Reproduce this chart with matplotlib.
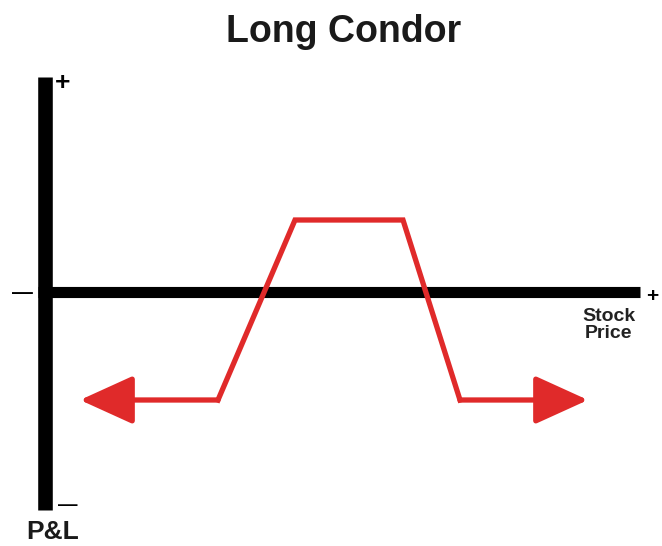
import matplotlib
matplotlib.use('Agg')
import matplotlib.pyplot as plt

plt.rcParams['font.family'] = ['Liberation Sans', 'DejaVu Sans']

# payoff shape of the long condor (arbitrary units, origin at axis crossing)
price = [35, 173, 250, 358, 415, 543]
pnl = [-108, -108, 72, 72, -108, -108]

title = 'Long Condor'
x_label = 'Stock\nPrice'
y_label = 'P&L'

fig = plt.figure(figsize=(6.62, 5.46), dpi=100)
ax = fig.add_axes([0, 0, 1, 1])
ax.set_xlim(-45, 617)
ax.set_ylim(-254, 292)
ax.axis('off')

# axes drawn as thick black bars
ax.plot([0, 0], [215, -218], color='black', lw=10.5, solid_capstyle='butt')
ax.plot([-7, 595], [0, 0], color='black', lw=8, solid_capstyle='butt')

red = '#e02a2a'
# middle of the payoff
ax.plot(price[1:5], pnl[1:5], color=red, lw=3.8, solid_joinstyle='miter')

# arrow tails on both sides
for a, b in [(0, 1), (5, 4)]:
    ax.annotate('', xy=(price[a], pnl[a]), xytext=(price[b], pnl[b]),
                arrowprops=dict(arrowstyle='-|>,head_length=2.2,head_width=1.0',
                                mutation_scale=15, lw=3.8, color=red,
                                shrinkA=0, shrinkB=0))

# labels
ax.text(299, 250, title, ha='center', va='baseline',
        fontsize=27, fontweight='bold', color='#1a1a1a')
ax.text(18, 209, '+', ha='center', va='center', fontsize=19, fontweight='bold')
ax.text(607, -5, '+', ha='center', va='center', fontsize=15, fontweight='bold')
ax.text(-23, -1, '—', ha='center', va='center', fontsize=15, fontweight='bold')
ax.text(23, -214, '—', ha='center', va='center', fontsize=14, fontweight='bold')
ax.text(564, -33, x_label, ha='center', va='center', fontsize=14,
        fontweight='bold', linespacing=1.05, color='#222222')
ax.text(8, -247, y_label, ha='center', va='baseline', fontsize=19,
        fontweight='bold', color='#1a1a1a')

fig.savefig('out.png', dpi=100)
